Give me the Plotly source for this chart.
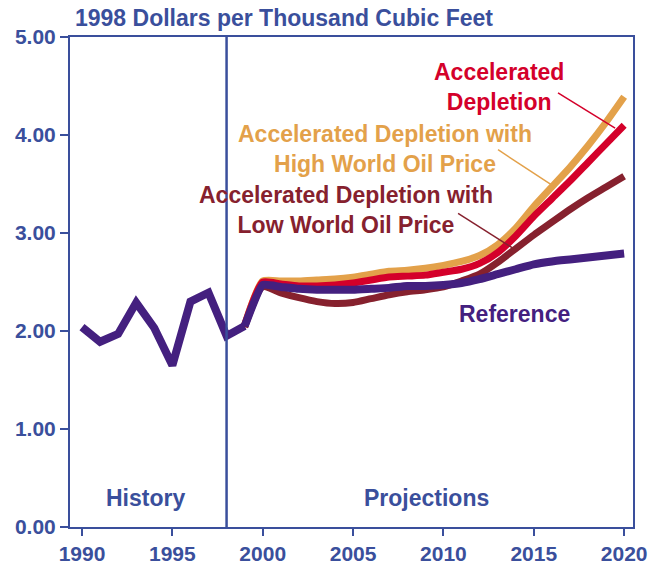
import plotly.graph_objects as go

# ---------------- data ----------------
hist_years = list(range(1990, 1999))
ref_hist = [2.04, 1.89, 1.97, 2.29, 2.03, 1.65, 2.30, 2.39, 1.95]

proj_years = list(range(1999, 2021))
reference = [2.05, 2.47, 2.45, 2.43, 2.42, 2.42, 2.42, 2.43, 2.44, 2.46, 2.46, 2.47,
             2.49, 2.53, 2.58, 2.63, 2.68, 2.71, 2.73, 2.75, 2.77, 2.79]
accel = [2.06, 2.50, 2.48, 2.46, 2.46, 2.47, 2.49, 2.52, 2.55, 2.56, 2.57, 2.60,
         2.63, 2.69, 2.80, 2.97, 3.17, 3.35, 3.53, 3.72, 3.91, 4.10]
accel_high = [2.06, 2.51, 2.51, 2.51, 2.52, 2.53, 2.55, 2.58, 2.61, 2.62, 2.64, 2.67,
              2.71, 2.77, 2.88, 3.05, 3.27, 3.47, 3.67, 3.89, 4.13, 4.39]
accel_low = [2.04, 2.45, 2.39, 2.34, 2.30, 2.28, 2.29, 2.33, 2.37, 2.40, 2.42, 2.45,
             2.51, 2.58, 2.70, 2.84, 2.98, 3.11, 3.24, 3.36, 3.47, 3.58]

x_ticks = [1990, 1995, 2000, 2005, 2010, 2015, 2020]
y_ticks = [0, 1, 2, 3, 4, 5]

# ---------------- style ----------------
BLUE = "#3a4f9c"
PURPLE = "#44207f"
RED = "#d4002a"
ORANGE = "#e3a14a"
DARKRED = "#86212e"
FONT = "Liberation Sans, Arial, sans-serif"

fig = go.Figure()
fig.add_trace(go.Scatter(x=proj_years, y=accel_high, mode="lines",
                         line=dict(color=ORANGE, width=7, shape="spline", smoothing=0.6),
                         hoverinfo="skip"))
fig.add_trace(go.Scatter(x=proj_years, y=accel, mode="lines",
                         line=dict(color=RED, width=7, shape="spline", smoothing=0.6),
                         hoverinfo="skip"))
fig.add_trace(go.Scatter(x=proj_years, y=accel_low, mode="lines",
                         line=dict(color=DARKRED, width=7, shape="spline", smoothing=0.6),
                         hoverinfo="skip"))
fig.add_trace(go.Scatter(x=hist_years + proj_years[:1], y=ref_hist + reference[:1], mode="lines",
                         line=dict(color=PURPLE, width=8),
                         hoverinfo="skip"))
fig.add_trace(go.Scatter(x=proj_years, y=reference, mode="lines",
                         line=dict(color=PURPLE, width=8, shape="spline", smoothing=0.4),
                         hoverinfo="skip"))

# divider between history and projections
fig.add_shape(type="line", xref="x", yref="y", x0=1998, x1=1998, y0=0, y1=5,
              line=dict(color=BLUE, width=2.5))

# leader lines
fig.add_shape(type="line", xref="x", yref="y", x0=2016.34, y0=4.43, x1=2019.5, y1=4.07,
              line=dict(color=RED, width=1.5))
fig.add_shape(type="line", xref="x", yref="y", x0=2013.02, y0=3.85, x1=2016.07, y1=3.48,
              line=dict(color=ORANGE, width=1.5))
fig.add_shape(type="line", xref="x", yref="y", x0=2010.81, y0=3.20, x1=2013.8, y1=2.85,
              line=dict(color=DARKRED, width=1.5))

ann_font = dict(family=FONT, size=23)
annotations = [
    dict(text="<b>1998 Dollars per Thousand Cubic Feet</b>", xref="paper", yref="paper",
         x=0.005, y=1.0388, xanchor="left", yanchor="middle", showarrow=False,
         font=dict(family=FONT, size=23, color=BLUE)),
    dict(text="<b>History</b>", x=1993.54, y=0.30, showarrow=False,
         font=dict(family=FONT, size=23, color=BLUE)),
    dict(text="<b>Projections</b>", x=2009.09, y=0.30, showarrow=False,
         font=dict(family=FONT, size=23, color=BLUE)),
    dict(text="<b>Reference</b>", x=2013.96, y=2.17, showarrow=False,
         font=dict(ann_font, color=PURPLE)),
    dict(text="<b>Accelerated<br>Depletion</b>", x=2013.05, y=4.49, showarrow=False,
         align="center", font=dict(ann_font, color=RED)),
    dict(text="<b>Accelerated Depletion with<br>High World Oil Price</b>", x=2006.77, y=3.86,
         showarrow=False, align="center", font=dict(ann_font, color=ORANGE)),
    dict(text="<b>Accelerated Depletion with<br>Low World Oil Price</b>", x=2004.61, y=3.235,
         showarrow=False, align="center", font=dict(ann_font, color=DARKRED)),
]

fig.update_layout(
    width=651, height=565,
    margin=dict(l=70, r=18, t=37, b=38, pad=0, autoexpand=False),
    paper_bgcolor="white", plot_bgcolor="white",
    showlegend=False,
    hovermode=False,
    annotations=annotations,
    font=dict(family=FONT, color=BLUE),
)
fig.update_xaxes(range=[1989.336, 2020.49], tickvals=x_ticks,
                 ticktext=[f"<b>{v}</b>" for v in x_ticks], automargin=False,
                 ticks="outside", ticklen=7, tickwidth=2, tickcolor=BLUE,
                 showline=True, linecolor=BLUE, linewidth=2, mirror=True,
                 showgrid=False, zeroline=False,
                 tickfont=dict(family=FONT, size=21, color=BLUE))
fig.update_yaxes(range=[0, 5], tickvals=y_ticks,
                 ticktext=[f"<b>{v:.2f}</b>" for v in y_ticks], automargin=False,
                 ticks="outside", ticklen=8, tickwidth=2, tickcolor=BLUE,
                 showline=True, linecolor=BLUE, linewidth=2, mirror=True,
                 showgrid=False, zeroline=False,
                 tickfont=dict(family=FONT, size=21, color=BLUE))

# remove the default page margin so the 651x565 figure fills the window exactly
fig.write_html("out.html",
               config={"displayModeBar": False},
               post_script="document.body.style.margin='0';document.body.style.overflow='hidden';")
